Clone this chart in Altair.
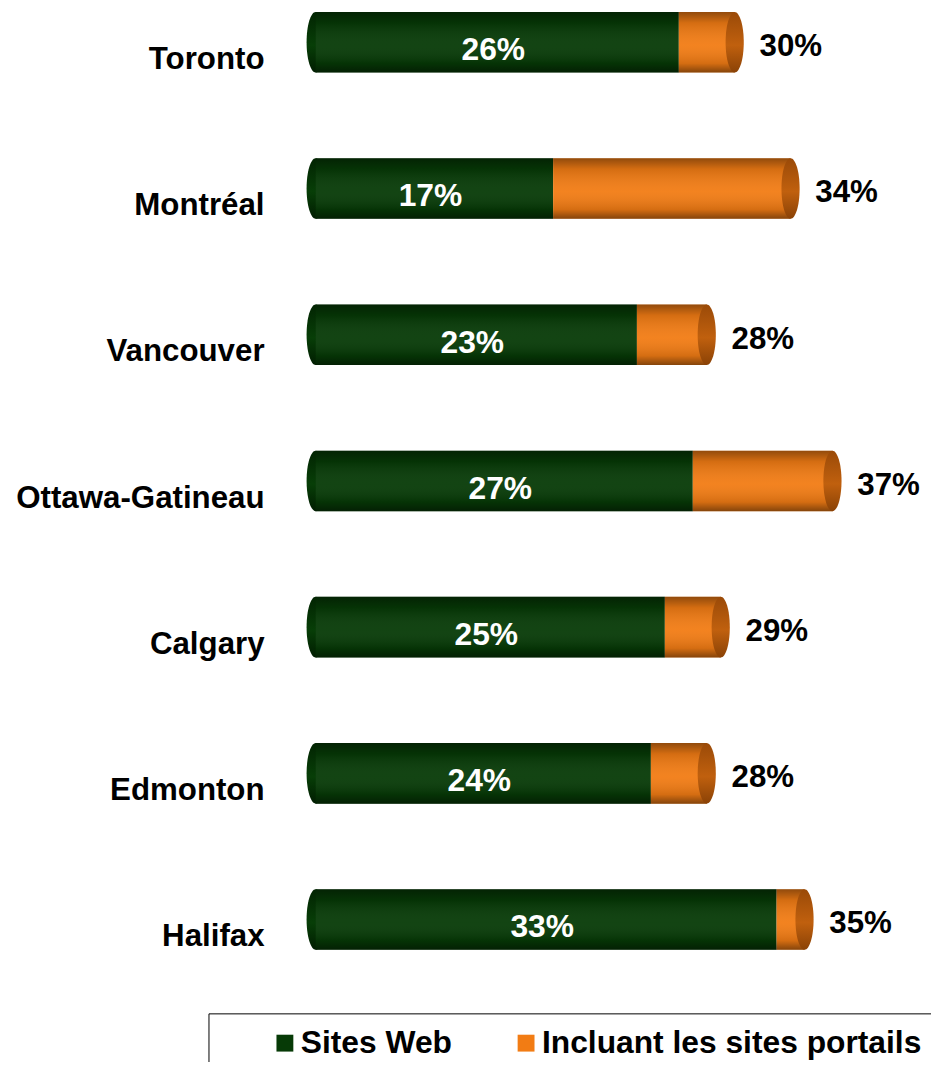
import altair as alt
import pandas as pd

cities = ["Toronto", "Montréal", "Vancouver", "Ottawa-Gatineau", "Calgary", "Edmonton", "Halifax"]
sites_web = [26, 17, 23, 27, 25, 24, 33]
totals = [30, 34, 28, 37, 29, 28, 35]
series = ["Sites Web", "Incluant les sites portails"]
colors = ["#063A06", "#F27C14"]

FONT = "Liberation Sans"

long_rows = []
for c, w, t in zip(cities, sites_web, totals):
    long_rows.append({"city": c, "series": series[0], "start": 0, "end": w})
    long_rows.append({"city": c, "series": series[1], "start": w, "end": t})
long_df = pd.DataFrame(long_rows)
wide_df = pd.DataFrame({"city": cities, "web": sites_web, "total": totals})

W = 577
H = 945
xscale = alt.Scale(domain=[0, 41], nice=False, zero=False)
yscale = alt.Scale(domain=cities, paddingInner=0.586, paddingOuter=0)

y_enc = alt.Y("city:N", scale=yscale, sort=cities,
              axis=alt.Axis(title=None, domain=False, ticks=False, grid=False, labelFont=FONT,
                            labelFontSize=31.5, labelFontWeight="bold", labelColor="black",
                            labelPadding=52, labelLimit=500, labelOffset=18))

a = 0.3
k = 0.5523
ellipse = (f"M0,-1C{a*k:.4f},-1,{a},{-k},{a},0C{a},{k},{a*k:.4f},1,0,1"
           f"C{-a*k:.4f},1,{-a},{k},{-a},0C{-a},{-k},{-a*k:.4f},-1,0,-1Z")

base = alt.Chart(wide_df)

left_cap = base.mark_point(
    shape=ellipse, size=3721, filled=True, opacity=1, strokeWidth=0,
    fill=alt.Gradient(gradient="linear", x1=0, x2=0, y1=0, y2=1,
                      stops=[alt.GradientStop(offset=0, color="#022402"),
                             alt.GradientStop(offset=0.55, color="#073E07"),
                             alt.GradientStop(offset=1, color="#011D01")])
).transform_calculate(zero="0").encode(
    x=alt.X("zero:Q", scale=xscale, axis=None), y=y_enc)

bars = alt.Chart(long_df).mark_bar(size=61).encode(
    x=alt.X("start:Q", scale=xscale, axis=None),
    x2="end:Q",
    y=y_enc,
    color=alt.Color("series:N", scale=alt.Scale(domain=series, range=colors),
                    legend=alt.Legend(title=None, orient="none", legendX=-108, legendY=1009,
                                      direction="horizontal", symbolType="square",
                                      symbolSize=289, symbolStrokeWidth=0,
                                      labelFont=FONT, labelFontSize=32, labelFontWeight="bold",
                                      labelColor="black", labelOffset=0, columnPadding=11,
                                      symbolOffset=47, padding=14, strokeColor="black",
                                      labelLimit=600)),
)

overlay = base.mark_bar(
    size=61,
    fill=alt.Gradient(gradient="linear", x1=0, x2=0, y1=0, y2=1,
                      stops=[alt.GradientStop(offset=0, color="rgba(0,0,0,0.40)"),
                             alt.GradientStop(offset=0.18, color="rgba(0,0,0,0.12)"),
                             alt.GradientStop(offset=0.55, color="rgba(255,255,255,0.05)"),
                             alt.GradientStop(offset=0.85, color="rgba(0,0,0,0.12)"),
                             alt.GradientStop(offset=1, color="rgba(0,0,0,0.45)")])
).transform_calculate(zero="0").encode(
    x=alt.X("zero:Q", scale=xscale, axis=None), x2="total:Q", y=y_enc)

right_cap = base.mark_point(
    shape=ellipse, size=3721, filled=True, opacity=1, strokeWidth=0,
    fill=alt.Gradient(gradient="linear", x1=0, x2=0, y1=0, y2=1,
                      stops=[alt.GradientStop(offset=0, color="#9A4A08"),
                             alt.GradientStop(offset=0.55, color="#C0600E"),
                             alt.GradientStop(offset=1, color="#8A4206")])
).encode(x=alt.X("total:Q", scale=xscale, axis=None), y=y_enc)

web_text = base.mark_text(
    font=FONT, fontSize=32, fontWeight="bold", color="white", align="center",
    baseline="middle", dx=-4, dy=8
).transform_calculate(mid="datum.web / 2", lab="datum.web + '%'").encode(
    x=alt.X("mid:Q", scale=xscale, axis=None), y=y_enc, text="lab:N")

total_text = base.mark_text(
    font=FONT, fontSize=31.5, fontWeight="bold", color="black", align="left",
    baseline="middle", dx=25, dy=5
).transform_calculate(lab="datum.total + '%'").encode(
    x=alt.X("total:Q", scale=xscale, axis=None), y=y_enc, text="lab:N")

chart = alt.layer(left_cap, bars, overlay, right_cap, web_text, total_text).properties(
    width=W, height=H, background="white",
    autosize=alt.AutoSizeParams(type="none"),
    padding={"left": 310, "top": 0, "right": 43, "bottom": 109}
).configure_view(stroke=None)

chart.save("out.html", embed_options={"renderer": "svg", "actions": False})
